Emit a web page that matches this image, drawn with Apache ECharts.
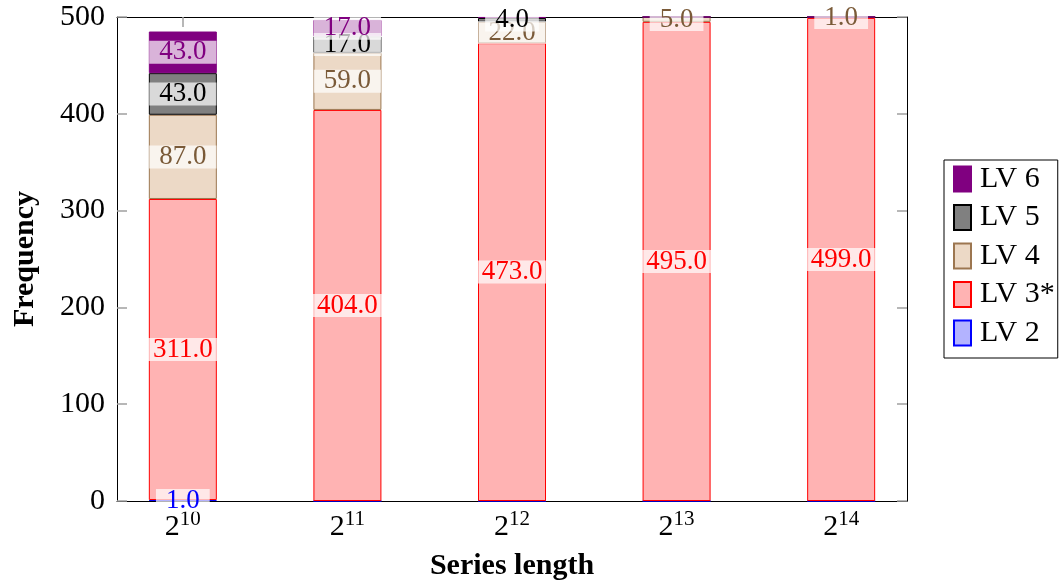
<!DOCTYPE html>
<html>
<head>
<meta charset="utf-8">
<script src="https://cdn.jsdelivr.net/npm/echarts@6/dist/echarts.min.js"></script>
<style>
html,body{margin:0;padding:0;background:#fff;}
#c{width:1061px;height:581px;}
</style>
</head>
<body>
<div id="c"></div>
<script>
// ---- data ----
const categories = ['10', '11', '12', '13', '14']; // exponents of 2
const lv2 = [1, 0, 0, 0, 0];
const lv3 = [311, 404, 473, 495, 499];
const lv4 = [87, 59, 22, 5, 1];
const lv5 = [43, 17, 4, 0, 0];
const lv6 = [43, 17, 1, 0, 0];
const yTicks = [0, 100, 200, 300, 400, 500];

const FONT = '"Liberation Serif", "DejaVu Serif", serif';
const idx = categories.map((c, i) => i);

// plot frame
const PL = 117, PT = 17, PW = 790, PH = 484;
const XMIN = -0.4, XMAX = 4.4;
const unit = PW / (XMAX - XMIN);

function mkSeries(name, vals, fill, border, textColor, hiddenLabels) {
  return {
    name: name,
    type: 'bar',
    stack: 'all',
    xAxisIndex: 2, yAxisIndex: 2,
    barWidth: 68,
    itemStyle: { color: fill, borderColor: border, borderWidth: 1 },
    label: {
      show: true,
      position: 'inside',
      fontFamily: FONT,
      fontSize: 27,
      lineHeight: 22,
      color: textColor,
      backgroundColor: 'rgba(255,255,255,0.7)',
      padding: [1, 10, 0, 10],
      formatter: p => Number(p.value).toFixed(1)
    },
    data: vals.map((v, i) => ({
      value: v,
      label: { show: v > 0 && !(hiddenLabels || []).includes(i) }
    }))
  };
}

const chart = echarts.init(document.getElementById('c'), null, { renderer: 'canvas' });

const tickStyle = { color: '#a0a0a0', width: 1.5 };

chart.setOption({
  animation: false,
  backgroundColor: '#fff',
  textStyle: { fontFamily: FONT },
  grid: [
    { left: PL, top: PT, width: PW, height: PH, show: false, containLabel: false, outerBoundsMode: 'none' },
    // bar grid: category bands aligned with frame scale (centers at 0..4)
    { left: PL + (-0.5 - XMIN) * unit, top: PT, width: 5 * unit, height: PH, show: false,
      containLabel: false, outerBoundsMode: 'none' }
  ],
  xAxis: [
    {
      type: 'value', gridIndex: 0, position: 'bottom', min: XMIN, max: XMAX,
      axisLine: { show: true, onZero: false, lineStyle: { color: '#000', width: 1 } },
      axisTick: { show: true, inside: true, length: 10, customValues: idx, lineStyle: tickStyle },
      axisLabel: {
        show: true, customValues: idx, margin: 8,
        formatter: v => '{b|2}{s|' + categories[Math.round(v)] + '}',
        rich: {
          b: { fontFamily: FONT, fontSize: 30, lineHeight: 36, color: '#000' },
          s: { fontFamily: FONT, fontSize: 21, lineHeight: 24, verticalAlign: 'top', color: '#000' }
        }
      },
      splitLine: { show: false },
      name: 'Series length', nameLocation: 'middle', nameGap: 50,
      nameTextStyle: { fontFamily: FONT, fontSize: 30, fontWeight: 'bold', color: '#000' }
    },
    {
      type: 'value', gridIndex: 0, position: 'top', min: XMIN, max: XMAX,
      axisLine: { show: true, onZero: false, lineStyle: { color: '#000', width: 1 } },
      axisTick: { show: true, inside: true, length: 10, customValues: idx, lineStyle: tickStyle },
      axisLabel: { show: false },
      splitLine: { show: false }
    },
    {
      type: 'category', gridIndex: 1, data: categories,
      axisLine: { show: false }, axisTick: { show: false }, axisLabel: { show: false },
      splitLine: { show: false }
    }
  ],
  yAxis: [
    {
      type: 'value', gridIndex: 0, position: 'left', min: 0, max: 500, interval: 100,
      axisLine: { show: true, onZero: false, lineStyle: { color: '#000', width: 1 } },
      axisTick: { show: true, inside: true, length: 10, lineStyle: tickStyle },
      axisLabel: { show: true, margin: 12, fontFamily: FONT, fontSize: 30, color: '#000',
        customValues: yTicks },
      splitLine: { show: false },
      name: 'Frequency', nameLocation: 'middle', nameGap: 77,
      nameTextStyle: { fontFamily: FONT, fontSize: 30, fontWeight: 'bold', color: '#000' }
    },
    {
      type: 'value', gridIndex: 0, position: 'right', min: 0, max: 500, interval: 100,
      axisLine: { show: true, onZero: false, lineStyle: { color: '#000', width: 1 } },
      axisTick: { show: true, inside: true, length: 10, lineStyle: tickStyle },
      axisLabel: { show: false },
      splitLine: { show: false }
    },
    {
      type: 'value', gridIndex: 1, min: 0, max: 500, interval: 100,
      axisLine: { show: false }, axisTick: { show: false }, axisLabel: { show: false },
      splitLine: { show: false }
    }
  ],
  legend: {
    orient: 'vertical', left: 944, top: 160,
    data: ['LV 6', 'LV 5', 'LV 4', 'LV 3*', 'LV 2'],
    icon: 'rect', itemWidth: 17, itemHeight: 25, itemGap: 8.5,
    padding: [4, 3, 10, 9],
    borderColor: '#000', borderWidth: 1,
    textStyle: { fontFamily: FONT, fontSize: 30, lineHeight: 25, color: '#000', padding: [0, 0, 0, 4] }
  },
  series: [
    mkSeries('LV 2', lv2, '#b3b3ff', '#0000ff', '#0000ff'),
    mkSeries('LV 3*', lv3, '#ffb3b3', '#ff0000', '#ff0000'),
    mkSeries('LV 4', lv4, '#ecd9c6', '#9c7650', '#7a5a38'),
    mkSeries('LV 5', lv5, '#808080', '#000000', '#000000'),
    mkSeries('LV 6', lv6, '#800080', '#800080', '#800080', [2])
  ]
});
</script>
</body>
</html>
